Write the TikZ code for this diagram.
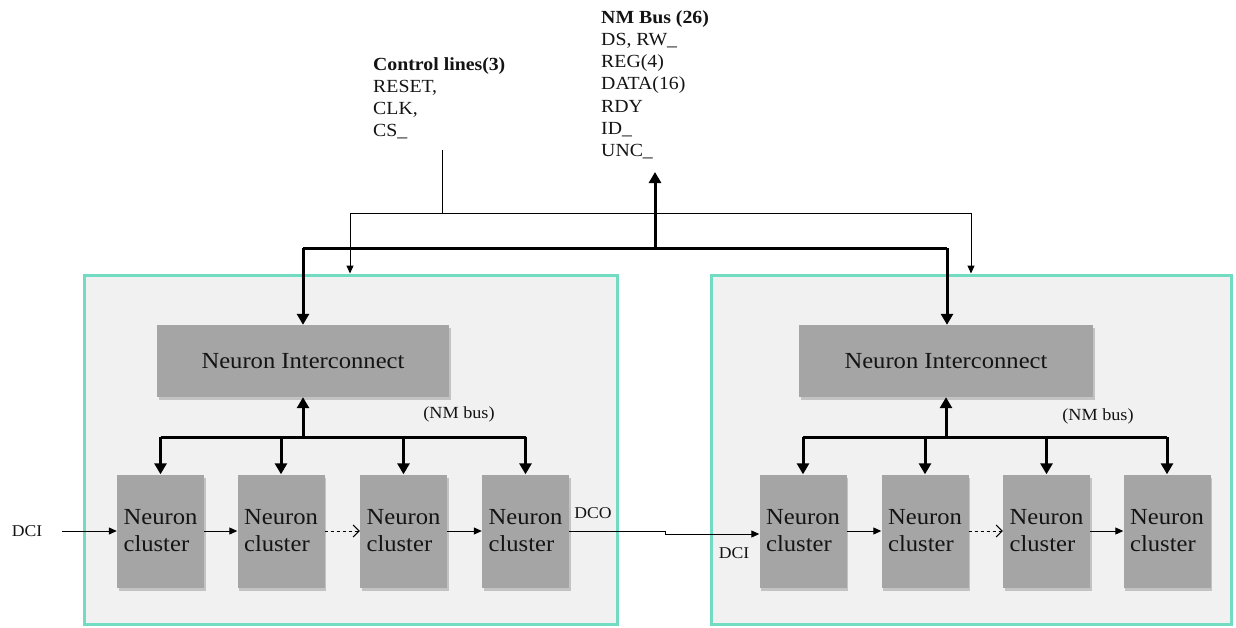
\documentclass[tikz,border=0pt]{standalone}
\usepackage{fontspec}
\setmainfont[FakeStretch=1.07]{Liberation Serif}
\usetikzlibrary{arrows.meta,shadows,calc}
\definecolor{turq}{HTML}{72DCC2}
\definecolor{panelgray}{HTML}{F1F1F1}
\definecolor{blockgray}{HTML}{A5A5A5}
\definecolor{txt}{HTML}{141414}
\begin{document}
\begin{tikzpicture}[x=1pt,y=-1pt,
  panel/.style={draw=turq, line width=3pt, fill=panelgray, inner sep=0pt},
  block/.style={fill=blockgray, inner sep=0pt, text=txt,
    drop shadow={shadow xshift=1.5pt, shadow yshift=-3pt, opacity=0.4}},
  nicbox/.style={block, minimum height=72pt, font=\fontsize{23}{27}\selectfont},
  clbox/.style={block, minimum width=87pt, minimum height=113pt, align=left,
    font=\fontsize{23}{27}\selectfont},
  buswire/.style={line width=3pt},
  busarrow/.style={line width=3pt, -{Triangle[length=11pt,width=12pt]}},
  sig/.style={line width=1pt, -{Triangle[length=8pt,width=7pt]}},
  plainsig/.style={line width=1pt},
  dashsig/.style={line width=1pt, dashed, -{Straight Barb[length=6pt,width=12pt]}},
  lbl/.style={text=txt, inner sep=0pt},
  toptxt/.style={lbl, anchor=north west, align=left, font=\fontsize{18.5}{22.3}\selectfont},
  smalltxt/.style={lbl, font=\fontsize{16.5}{19}\selectfont}
]
\useasboundingbox (0,0) rectangle (1236,627);
\fill[white] (0,0) rectangle (1236,627);

% panels
\node[panel, minimum width=533pt, minimum height=349pt] (boxL) at (350.5,449.5) {};
\node[panel, minimum width=520pt, minimum height=349pt] (boxR) at (971,449.5) {};

% interconnects
\node[nicbox, minimum width=292pt] (LNI) at (303,361) {Neuron Interconnect};
\node[nicbox, minimum width=294pt] (RNI) at (946,361) {Neuron Interconnect};

% clusters left
\node[clbox] (L1) at (160.5,531) {Neuron\\cluster};
\node[clbox] (L2) at (281,531) {Neuron\\cluster};
\node[clbox] (L3) at (403.5,531) {Neuron\\cluster};
\node[clbox] (L4) at (525.5,531) {Neuron\\cluster};
% clusters right
\node[clbox] (R1) at (803,531) {Neuron\\cluster};
\node[clbox] (R2) at (925,531) {Neuron\\cluster};
\node[clbox] (R3) at (1046.5,531) {Neuron\\cluster};
\node[clbox] (R4) at (1167,531) {Neuron\\cluster};

% top texts
\node[toptxt] (ctltxt) at (373,57) {\textbf{Control lines(3)}\\RESET,\\CLK,\\CS\_};
\node[toptxt] (nmtxt) at (601,10) {\textbf{NM Bus (26)}\\DS, RW\_\\REG(4)\\DATA(16)\\RDY\\ID\_\\UNC\_};

% control lines
\coordinate (ctltop) at (442,150);
\coordinate (ctljoin) at (442,213);
\coordinate (ctlL) at (350,213);
\coordinate (ctlR) at (971,213);
\draw[plainsig] (ctltop) -- (ctljoin);
\draw[plainsig] (ctlL) -- (ctlR);
\draw[sig] (ctlL) -- (ctlL |- boxL.north);
\draw[sig] (ctlR) -- (ctlR |- boxR.north);

% NM bus top
\coordinate (busL) at (303,248);
\coordinate (busR) at (947,248);
\coordinate (busM) at (655,248);
\coordinate (nmend) at (655,172);
\draw[buswire] (busL) -- (busR);
\draw[busarrow] (busM) -- (nmend);
\draw[busarrow] (busL) -- (LNI.north);
\draw[busarrow] (busR) -- (busR |- RNI.north);

% inner buses
\coordinate (busY) at (0,437);
\draw[buswire] (L1.north |- busY) -- (L4.north |- busY);
\draw[busarrow] (LNI.south |- busY) -- (LNI.south);
\foreach \c in {L1,L2,L3,L4} \draw[busarrow] (\c.north |- busY) -- (\c.north);
\draw[buswire] (R1.north |- busY) -- (R4.north |- busY);
\draw[busarrow] (RNI.south |- busY) -- (RNI.south);
\foreach \c in {R1,R2,R3,R4} \draw[busarrow] (\c.north |- busY) -- (\c.north);

\node[smalltxt, font=\fontsize{17}{20}\selectfont] (nmbusL) at (459,414) {(NM bus)};
\node[smalltxt, font=\fontsize{17}{20}\selectfont] (nmbusR) at (1098,416) {(NM bus)};

% chain left
\node[smalltxt] (dciL) at (27,531) {DCI};
\coordinate (dcistart) at (62,531);
\draw[sig] (dcistart) -- (L1.west);
\draw[sig] (L1.east) -- (L2.west);
\draw[dashsig] (L2.east) -- (L3.west);
\draw[sig] (L3.east) -- (L4.west);

% DCO -> DCI
\node[smalltxt] (dco) at (593,513) {DCO};
\node[smalltxt] (dciR) at (734,553) {DCI};
\coordinate (jog) at (665,531);
\draw[sig] (L4.east) -- (jog) -- ++(0,3) -- ($(R1.west)+(0,3)$);

% chain right
\draw[sig] (R1.east) -- (R2.west);
\draw[dashsig] (R2.east) -- (R3.west);
\draw[sig] (R3.east) -- (R4.west);
\end{tikzpicture}
\end{document}
